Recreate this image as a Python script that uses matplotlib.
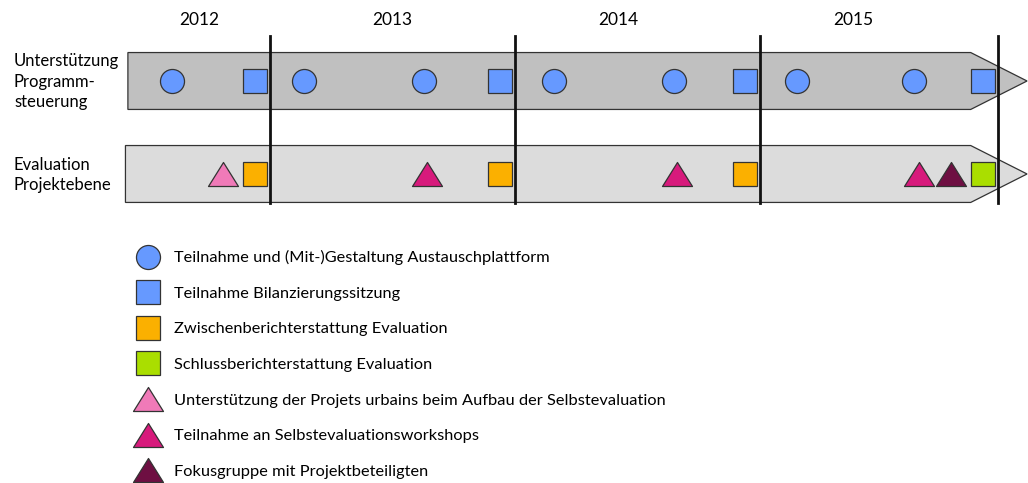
import matplotlib.pyplot as plt
from matplotlib.patches import Polygon
from matplotlib.path import Path

plt.rcParams['font.family'] = ['Lato', 'DejaVu Sans']

# data: time in years (year boundaries at 2013, 2014, 2015, end of 2015)
rows = ["Unterstützung\nProgramm-\nsteuerung", "Evaluation\nProjektebene"]
band_start = [2012.42, 2012.41]
band_arrow = [2015.86, 2015.86]
band_tip = [2016.09, 2016.09]
year_lines = [2013.0, 2014.0, 2015.0, 2015.97]
years = ["2012", "2013", "2014", "2015"]
year_label_pos = [2012.71, 2013.50, 2014.42, 2015.38]

# events per category
austausch = [2012.60, 2013.14, 2013.63, 2014.16, 2014.65, 2015.15, 2015.63]
bilanz = [2012.94, 2013.94, 2014.94, 2015.91]
zwischen = [2012.94, 2013.94, 2014.94]
schluss = [2015.91]
aufbau = [2012.81]
workshops = [2013.64, 2014.66, 2015.65]
fokus = [2015.78]

px_per_year = 245
x0 = 2013 - 270 / px_per_year
x1 = 2013 + (1028 - 270) / px_per_year

fig = plt.figure(figsize=(10.28, 4.83), dpi=100)
ax = fig.add_axes([0, 0, 1, 1])
ax.set_xlim(x0, x1)
ax.set_ylim(4.323, -0.871)  # row 0 at 81px, row 1 at 174px
ax.axis('off')

band_colors = ['#c0c0c0', '#dcdcdc']
half = 0.306
for i in range(len(rows)):
    verts = [(band_start[i], i - half), (band_arrow[i], i - half), (band_tip[i], i),
             (band_arrow[i], i + half), (band_start[i], i + half)]
    ax.add_patch(Polygon(verts, closed=True, facecolor=band_colors[i],
                         edgecolor='#333333', linewidth=0.9, zorder=1))
    ax.text(x0 + 14 / px_per_year, i + 0.01, rows[i],
            ha='left', va='center', fontsize=12, linespacing=1.35)

for x in year_lines:
    ax.plot([x, x], [-0.48, 1.31], color='#111111', lw=2, zorder=2)
for x, lab in zip(year_label_pos, years):
    ax.text(x, -0.66, lab, ha='center', va='center', fontsize=12.5)

tri = Path([(0, 0.4), (-0.5, -0.4), (0.5, -0.4), (0, 0.4)],
           [Path.MOVETO, Path.LINETO, Path.LINETO, Path.CLOSEPOLY])
ec = '#333333'
series = [
    (austausch, 0, 'o', 17.3, '#6699ff', "Teilnahme und (Mit-)Gestaltung Austauschplattform"),
    (bilanz, 0, 's', 17.5, '#6699ff', "Teilnahme Bilanzierungssitzung"),
    (zwischen, 1, 's', 17.5, '#fbb000', "Zwischenberichterstattung Evaluation"),
    (schluss, 1, 's', 17.5, '#aade00', "Schlussberichterstattung Evaluation"),
    (aufbau, 1, tri, 21.6, '#f07ab8', "Unterstützung der Projets urbains beim Aufbau der Selbstevaluation"),
    (workshops, 1, tri, 21.6, '#d71a7c', "Teilnahme an Selbstevaluationsworkshops"),
    (fokus, 1, tri, 21.6, '#6e0f42', "Fokusgruppe mit Projektbeteiligten"),
]
handles = []
for times, row, m, ms, col, lab in series:
    h, = ax.plot(times, [row] * len(times), linestyle='none', marker=m, markersize=ms,
                 markerfacecolor=col, markeredgecolor=ec, markeredgewidth=0.9,
                 label=lab, zorder=3)
    handles.append(h)

fig.legend(handles=handles, loc='upper left', bbox_to_anchor=(0.134, 0.482),
           frameon=False, fontsize=11.8, handlelength=1.2, handletextpad=1.0,
           labelspacing=1.29, borderpad=0, borderaxespad=0)

plt.savefig('out.png', dpi=100)
